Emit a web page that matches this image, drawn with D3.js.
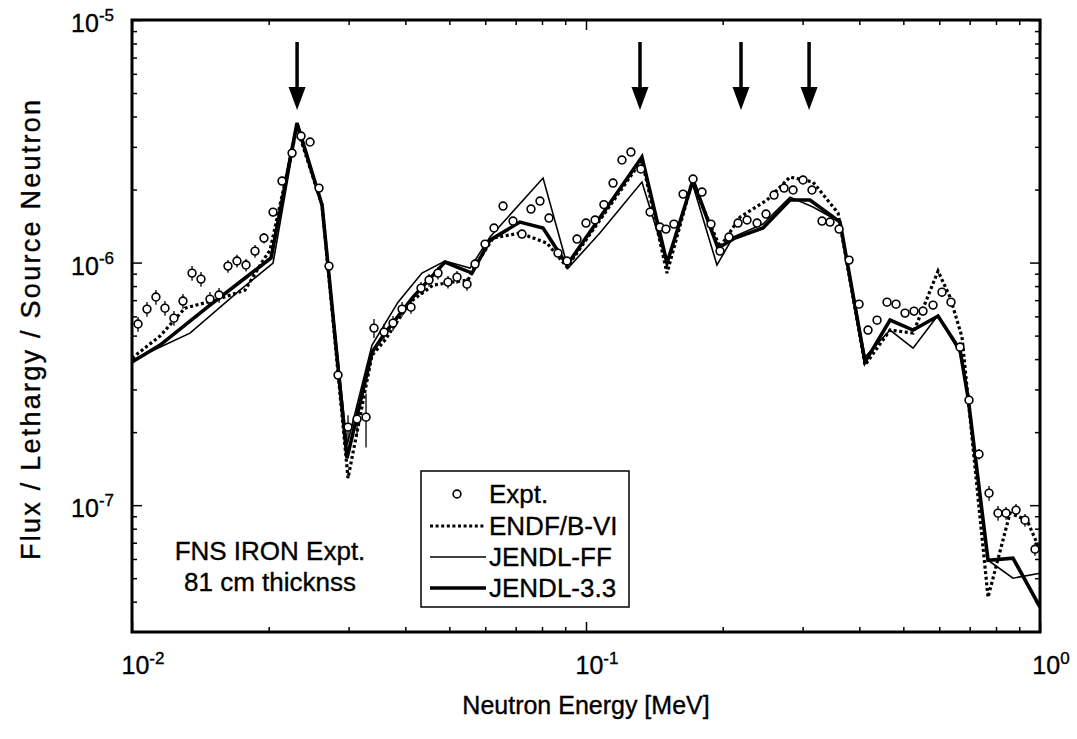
<!DOCTYPE html>
<html><head><meta charset="utf-8">
<script src="https://cdn.jsdelivr.net/npm/d3@7"></script>
<style>
body{margin:0;background:#fff}
svg{display:block}
text{font-family:"Liberation Sans",Arial,Helvetica,sans-serif;fill:#000;stroke:#000;stroke-width:0.35px}
</style>
</head><body>
<svg id="chart" width="1077" height="739"></svg>
<script>
// ---------------- data ----------------
const exptE = [0.01031,0.01079,0.01129,0.01182,0.01237,0.01295,0.01356,0.01419,0.01485,0.01555,
  0.01627,0.01703,0.01783,0.01866,0.01953,0.02045,0.02140,0.02252,0.02357,0.02467,
  0.02582,0.02716,0.02843,0.02991,0.03131,0.03277,0.03412,0.03590,0.03758,0.03934,
  0.04117,0.04331,0.04511,0.04721,0.04966,0.05199,0.05469,0.05696,0.05993,0.06272,
  0.06566,0.06906,0.07228,0.07566,0.07918,0.08289,0.08676,0.09082,0.09554,0.1000,
  0.1047,0.1095,0.1147,0.1200,0.1256,0.1321,0.1384,0.1455,0.1500,0.1562,
  0.1636,0.1721,0.1801,0.1885,0.1973,0.2065,0.2162,0.2263,0.2381,0.2492,
  0.2595,0.2730,0.2858,0.3006,0.3146,0.3310,0.3447,0.3609,0.3797,0.3994,
  0.4180,0.4376,0.4603,0.4818,0.5043,0.5279,0.5525,0.5813,0.6083,0.6368,
  0.6665,0.6976,0.7338,0.7722,0.8082,0.8418,0.8855,0.9268,0.9750];
const exptV = [5.58e-7,6.43e-7,7.21e-7,6.49e-7,5.90e-7,6.94e-7,9.05e-7,8.55e-7,7.07e-7,7.35e-7,
  9.67e-7,1.015e-6,9.77e-7,1.115e-6,1.262e-6,1.615e-6,2.168e-6,2.828e-6,3.323e-6,3.14e-6,
  2.028e-6,9.67e-7,3.436e-7,2.098e-7,2.263e-7,2.306e-7,5.37e-7,5.17e-7,5.63e-7,6.43e-7,
  6.55e-7,7.85e-7,8.47e-7,9.05e-7,8.31e-7,8.71e-7,8.15e-7,9.86e-7,1.192e-6,1.388e-6,
  1.710e-6,1.483e-6,1.311e-6,1.662e-6,1.793e-6,1.526e-6,1.094e-6,1.015e-6,1.250e-6,1.455e-6,
  1.498e-6,1.734e-6,2.127e-6,2.647e-6,2.855e-6,2.430e-6,1.615e-6,1.401e-6,1.374e-6,1.441e-6,
  1.916e-6,2.210e-6,1.953e-6,1.441e-6,1.115e-6,1.274e-6,1.455e-6,1.498e-6,1.455e-6,1.585e-6,
  1.898e-6,2.028e-6,1.991e-6,2.189e-6,1.991e-6,1.483e-6,1.469e-6,1.374e-6,1.024e-6,6.74e-7,
  5.27e-7,5.79e-7,6.87e-7,6.74e-7,6.19e-7,6.31e-7,6.31e-7,6.68e-7,7.55e-7,6.87e-7,
  4.48e-7,2.710e-7,1.623e-7,1.121e-7,9.27e-8,9.27e-8,9.54e-8,8.67e-8,6.58e-8];
// relative experimental uncertainty
const exptErr = [0.07,0.07,0.07,0.07,0.07,0.07,0.07,0.07,0.07,0.07,
  0.06,0.06,0.06,0.06,0.05,0.04,0.03,0.03,0.03,0.03,
  0.03,0.03,0.05,0.12,0.15,0.25,0.09,0.08,0.07,0.07,
  0.06,0.06,0.06,0.06,0.06,0.06,0.06,0.03,0.03,0.03,
  0.03,0.03,0.03,0.03,0.03,0.03,0.03,0.03,0.03,0.03,
  0.03,0.03,0.03,0.03,0.03,0.03,0.03,0.03,0.03,0.03,
  0.03,0.03,0.03,0.03,0.03,0.03,0.03,0.03,0.03,0.03,
  0.03,0.03,0.03,0.03,0.03,0.03,0.03,0.03,0.03,0.03,
  0.04,0.04,0.04,0.04,0.04,0.04,0.04,0.04,0.04,0.04,
  0.05,0.05,0.05,0.07,0.07,0.06,0.06,0.06,0.06];

const endfE = [0.01,0.01153,0.01308,0.01523,0.01774,0.01934,0.02014,0.02309,0.02622,0.02991,
  0.03378,0.03608,0.04096,0.04603,0.05068,0.05496,0.05751,0.06240,0.07152,0.08205,
  0.09082,0.1328,0.1508,0.1712,0.1973,0.2184,0.2504,0.2814,0.3162,0.3591,
  0.4117,0.4674,0.5253,0.5962,0.6336,0.6733,0.6940,0.7683,0.8589,0.9363,1.0];
const endfV = [4.04e-7,4.98e-7,6.49e-7,7.00e-7,7.70e-7,1.005e-6,1.126e-6,3.59e-6,1.726e-6,1.292e-7,
  4.15e-7,4.79e-7,6.87e-7,8.07e-7,8.31e-7,8.47e-7,9.95e-7,1.262e-6,1.323e-6,1.203e-6,
  9.58e-7,2.647e-6,9.05e-7,2.148e-6,1.159e-6,1.540e-6,1.810e-6,2.252e-6,2.148e-6,1.600e-6,
  3.78e-7,5.27e-7,5.12e-7,9.22e-7,7.21e-7,4.93e-7,2.789e-7,4.17e-8,9.27e-8,8.67e-8,6.52e-8];

const jffE = [0.01,0.01342,0.01729,0.02045,0.02309,0.02622,0.02976,0.03378,0.03855,0.04352,
  0.04891,0.05553,0.06146,0.08043,0.09129,0.1073,0.1328,0.1508,0.1712,0.1943,
  0.2108,0.2454,0.2814,0.3162,0.3627,0.4117,0.4674,0.5253,0.5962,0.6665,
  0.6940,0.7683,0.8720,1.0];
const jffV = [3.96e-7,5.12e-7,7.70e-7,9.95e-7,3.65e-6,1.694e-6,1.767e-7,4.57e-7,6.87e-7,9.05e-7,
  1.015e-6,9.49e-7,1.274e-6,2.231e-6,9.49e-7,1.323e-6,2.148e-6,9.95e-7,2.148e-6,9.77e-7,
  1.274e-6,1.441e-6,1.862e-6,1.694e-6,1.469e-6,4.08e-7,5.27e-7,4.44e-7,6.07e-7,4.23e-7,
  2.789e-7,5.93e-8,5.00e-8,5.24e-8];

const j33E = [0.01,0.01153,0.01485,0.02024,0.02309,0.02622,0.02976,0.03378,0.03608,0.04159,
  0.04891,0.05199,0.05610,0.06146,0.07152,0.08043,0.09082,0.1328,0.1508,0.1721,
  0.1953,0.2129,0.2454,0.2814,0.3114,0.3627,0.4117,0.4674,0.5253,0.5962,
  0.6665,0.6940,0.7683,0.8720,1.0];
const j33V = [3.89e-7,4.57e-7,6.68e-7,1.044e-6,3.76e-6,1.726e-6,1.562e-7,4.27e-7,5.12e-7,7.21e-7,
  1.005e-6,9.58e-7,9.05e-7,1.238e-6,1.469e-6,1.388e-6,9.77e-7,2.724e-6,9.95e-7,2.189e-6,
  1.148e-6,1.262e-6,1.388e-6,1.810e-6,1.810e-6,1.469e-6,3.89e-7,5.79e-7,5.27e-7,6.02e-7,
  4.36e-7,2.789e-7,5.93e-8,6.05e-8,3.80e-8];

const arrowE = [0.0231, 0.1315, 0.2195, 0.31];

const xMajorTicks = [0.01, 0.1, 1];
const xTickExp = ["-2", "-1", "0"];
const yMajorTicks = [1e-7, 1e-6, 1e-5];
const yTickExp = ["-7", "-6", "-5"];
const legendLabels = ["Expt.", "ENDF/B-VI", "JENDL-FF", "JENDL-3.3"];
const noteLines = ["FNS IRON Expt.", "81 cm thicknss"];
const xTitle = "Neutron Energy [MeV]";
const yTitle = "Flux / Lethargy / Source Neutron";

// ---------------- layout ----------------
const W = 1077, H = 739;
const m = {left: 132, right: 37, top: 20, bottom: 107};
const svg = d3.select("#chart");
const x = d3.scaleLog().domain([0.01, 1]).range([m.left, W - m.right]);
const y = d3.scaleLog().domain([3e-8, 1e-5]).range([H - m.bottom, m.top]);
const x0 = x.range()[0], x1 = x.range()[1], y0 = y.range()[1], y1 = y.range()[0];

svg.append("defs").append("clipPath").attr("id", "clip")
  .append("rect").attr("x", x0).attr("y", y0).attr("width", x1 - x0).attr("height", y1 - y0);

// minor ticks
const xMinor = [];
[0.01, 0.1].forEach(b => { for (let k = 2; k <= 9; k++) xMinor.push(b * k); });
const yMinor = [];
[1e-8, 1e-7, 1e-6].forEach(b => { for (let k = 2; k <= 9; k++) { const v = b * k; if (v > 3.01e-8 && v < 1e-5) yMinor.push(v); } });

function styleAxis(g) {
  g.select(".domain").remove();
  g.selectAll(".tick line").attr("stroke", "#000").attr("stroke-width", 1.5);
  g.selectAll(".tick text").remove();
}
const axes = svg.append("g");
axes.append("g").attr("transform", `translate(0,${y1})`).call(d3.axisBottom(x).tickValues(xMinor).tickSize(-5).tickFormat("")).call(styleAxis);
axes.append("g").attr("transform", `translate(0,${y1})`).call(d3.axisBottom(x).tickValues(xMajorTicks).tickSize(-10).tickFormat("")).call(styleAxis);
axes.append("g").attr("transform", `translate(0,${y0})`).call(d3.axisTop(x).tickValues(xMinor).tickSize(-5).tickFormat("")).call(styleAxis);
axes.append("g").attr("transform", `translate(0,${y0})`).call(d3.axisTop(x).tickValues(xMajorTicks).tickSize(-10).tickFormat("")).call(styleAxis);
axes.append("g").attr("transform", `translate(${x0},0)`).call(d3.axisLeft(y).tickValues(yMinor).tickSize(-5).tickFormat("")).call(styleAxis);
axes.append("g").attr("transform", `translate(${x0},0)`).call(d3.axisLeft(y).tickValues(yMajorTicks).tickSize(-10).tickFormat("")).call(styleAxis);
axes.append("g").attr("transform", `translate(${x1},0)`).call(d3.axisRight(y).tickValues(yMinor).tickSize(-5).tickFormat("")).call(styleAxis);
axes.append("g").attr("transform", `translate(${x1},0)`).call(d3.axisRight(y).tickValues(yMajorTicks).tickSize(-10).tickFormat("")).call(styleAxis);

// tick labels
xMajorTicks.forEach((v, i) => {
  const t = svg.append("text").attr("x", x(v) + 11).attr("y", y1 + 42).attr("text-anchor", "middle").attr("font-size", 25);
  t.append("tspan").text("10");
  t.append("tspan").attr("font-size", 17).attr("dy", -10).text(xTickExp[i]);
});
yMajorTicks.forEach((v, i) => {
  const t = svg.append("text").attr("x", x0 - 18).attr("y", y(v) + 12).attr("text-anchor", "end").attr("font-size", 25);
  t.append("tspan").text("10");
  t.append("tspan").attr("font-size", 17).attr("dy", -11).text(yTickExp[i]);
});

// axis titles
svg.append("text").attr("x", (x0 + x1) / 2).attr("y", 714).attr("text-anchor", "middle").attr("font-size", 25).text(xTitle);
svg.append("text").attr("transform", `translate(40,${(y0 + y1) / 2 + 4}) rotate(-90)`).attr("text-anchor", "middle")
  .attr("font-size", 27).attr("textLength", 460).attr("lengthAdjust", "spacing").text(yTitle);

// curves
const plot = svg.append("g").attr("clip-path", "url(#clip)");
const line = d3.line().x(d => x(d[0])).y(d => y(d[1]));
const zip = (a, b) => a.map((v, i) => [v, b[i]]);
plot.append("path").datum(zip(jffE, jffV)).attr("d", line).attr("fill", "none").attr("stroke", "#000").attr("stroke-width", 1.6).attr("stroke-linejoin", "miter");
plot.append("path").datum(zip(j33E, j33V)).attr("d", line).attr("fill", "none").attr("stroke", "#000").attr("stroke-width", 3.6).attr("stroke-linejoin", "miter");
plot.append("path").datum(zip(endfE, endfV)).attr("d", line).attr("fill", "none").attr("stroke", "#000").attr("stroke-width", 3.2).attr("stroke-dasharray", "3,2.6");

// experimental points
const pts = exptE.map((e, i) => ({e, v: exptV[i], r: exptErr[i]}));
plot.selectAll(".eb").data(pts).enter().append("line")
  .attr("x1", d => x(d.e)).attr("x2", d => x(d.e))
  .attr("y1", d => y(d.v * (1 + d.r))).attr("y2", d => y(d.v * (1 - d.r)))
  .attr("stroke", "#000").attr("stroke-width", 1.3);
plot.selectAll(".pt").data(pts).enter().append("circle")
  .attr("cx", d => x(d.e)).attr("cy", d => y(d.v)).attr("r", 3.9)
  .attr("fill", "#fff").attr("stroke", "#000").attr("stroke-width", 1.6);

// arrows
arrowE.forEach(e => {
  const ax = x(e);
  svg.append("line").attr("x1", ax).attr("x2", ax).attr("y1", 42).attr("y2", 92).attr("stroke", "#000").attr("stroke-width", 3.5);
  svg.append("path").attr("d", `M${ax - 8.5},87 L${ax + 8.5},87 L${ax},110 Z`).attr("fill", "#000");
});

// frame
svg.append("rect").attr("x", x0).attr("y", y0).attr("width", x1 - x0).attr("height", y1 - y0)
  .attr("fill", "none").attr("stroke", "#000").attr("stroke-width", 3);

// legend
const lg = svg.append("g");
lg.append("rect").attr("x", 421).attr("y", 471).attr("width", 208).attr("height", 136)
  .attr("fill", "#fff").attr("stroke", "#000").attr("stroke-width", 1.5);
const rowY = [494, 526, 557, 588];
lg.append("circle").attr("cx", 457).attr("cy", rowY[0]).attr("r", 3.9).attr("fill", "#fff").attr("stroke", "#000").attr("stroke-width", 1.6);
lg.append("line").attr("x1", 430).attr("x2", 486).attr("y1", rowY[1]).attr("y2", rowY[1]).attr("stroke", "#000").attr("stroke-width", 3.2).attr("stroke-dasharray", "3,2.6");
lg.append("line").attr("x1", 430).attr("x2", 486).attr("y1", rowY[2]).attr("y2", rowY[2]).attr("stroke", "#000").attr("stroke-width", 1.6);
lg.append("line").attr("x1", 430).attr("x2", 486).attr("y1", rowY[3]).attr("y2", rowY[3]).attr("stroke", "#000").attr("stroke-width", 3.6);
legendLabels.forEach((s, i) => {
  lg.append("text").attr("x", 489).attr("y", rowY[i] + 9).attr("font-size", 26).text(s);
});

// annotation
noteLines.forEach((s, i) => {
  svg.append("text").attr("x", 270).attr("y", 560 + i * 31).attr("text-anchor", "middle").attr("font-size", 26).text(s);
});
</script>
</body></html>
